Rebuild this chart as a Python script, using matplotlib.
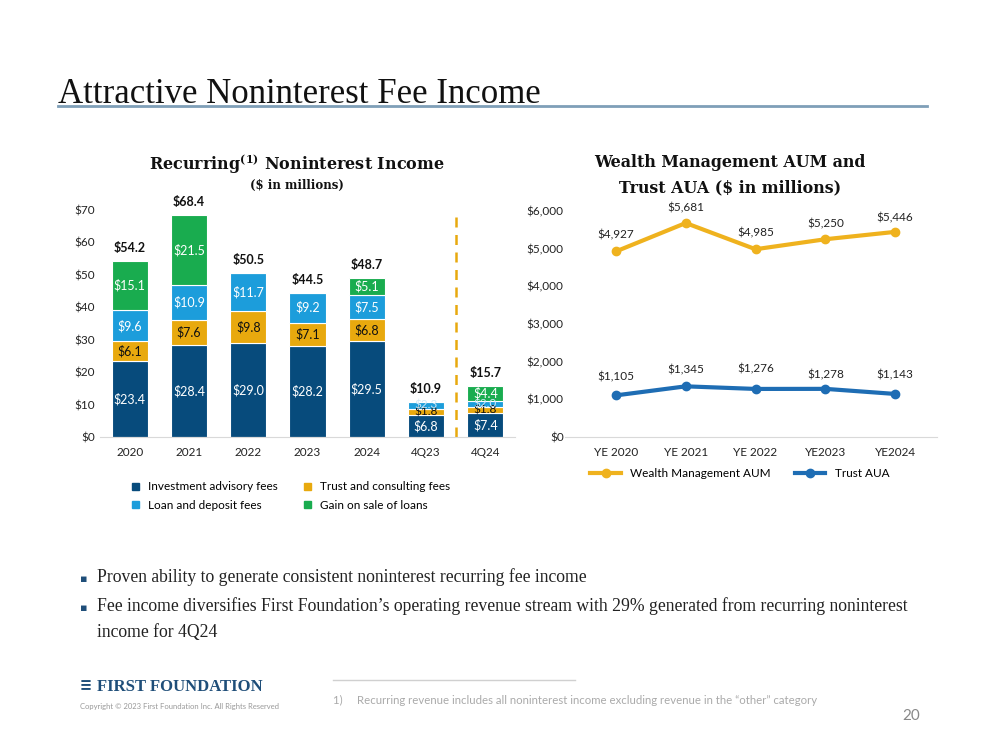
import matplotlib
matplotlib.use("Agg")
import matplotlib.pyplot as plt
from matplotlib.lines import Line2D
from matplotlib.patches import Patch

# bar chart data ($ in millions)
periods = ["2020", "2021", "2022", "2023", "2024", "4Q23", "4Q24"]
advisory = [23.4, 28.4, 29.0, 28.2, 29.5, 6.8, 7.4]
trust = [6.1, 7.6, 9.8, 7.1, 6.8, 1.8, 1.8]
loan = [9.6, 10.9, 11.7, 9.2, 7.5, 2.3, 2.0]
gain = [15.1, 21.5, 0.0, 0.0, 5.1, 0.0, 4.4]
totals = ["$54.2", "$68.4", "$50.5", "$44.5", "$48.7", "$10.9", "$15.7"]

# line chart data ($ in millions)
years = ["YE 2020", "YE 2021", "YE 2022", "YE2023", "YE2024"]
aum = [4927, 5681, 4985, 5250, 5446]
aua = [1105, 1345, 1276, 1278, 1143]

NAVY = "#074B7C"
GOLD = "#E8A90E"
SKY = "#1C9DDB"
GREEN = "#19AC4F"
LINE_GOLD = "#EFB21E"
LINE_BLUE = "#1E6DB4"

SANS = ["Lato", "DejaVu Sans"]
SERIF = ["DejaVu Serif"]
plt.rcParams["font.family"] = SANS

fig = plt.figure(figsize=(9.99, 7.5), dpi=100)
fig.patch.set_facecolor("white")

# slide title
fig.text(58 / 999, 1 - 103 / 750, "Attractive Noninterest Fee Income",
         family=["Liberation Serif"], fontsize=25, color="#111111")
fig.add_artist(Line2D([58 / 999, 927 / 999], [1 - 106 / 750] * 2,
                      color="#7F9FB8", lw=2))

# ---- left: stacked bars ----
ax = fig.add_axes([100 / 999, 1 - 437 / 750, 415 / 999, 227 / 750])
x = list(range(len(periods)))
w = 0.61
bottom = [0.0] * len(x)
segs = [(advisory, NAVY, "white"), (trust, GOLD, "#111111"),
        (loan, SKY, "white"), (gain, GREEN, "white")]
for vals, col, tcol in segs:
    ax.bar(x, vals, w, bottom=bottom, color=col, edgecolor="white", lw=0.8)
    for i, v in enumerate(vals):
        if v > 0:
            c = tcol
            fs = 9
            if i >= 5 and v < 3:
                fs = 8.5
                if col == SKY:
                    c = "#CFE8F7"
            ax.text(i, bottom[i] + v / 2, "$%.1f" % v, ha="center",
                    va="center", color=c, fontsize=fs)
    bottom = [b + v for b, v in zip(bottom, vals)]
for i, t in enumerate(totals):
    ax.text(i, bottom[i] + 2.2, t, ha="center", va="bottom",
            fontsize=9, fontweight="bold", color="#111111")
ax.axvline(5.5, ymin=0, ymax=1.0, color=GOLD, ls=(0, (4, 3)), lw=1.8)
ax.set_xlim(-0.5, 6.5)
ax.set_ylim(0, 70)
ax.set_yticks(range(0, 71, 10))
ax.set_yticklabels(["$%d" % v for v in range(0, 71, 10)])
ax.set_xticks(x)
ax.set_xticklabels(periods)
ax.tick_params(length=0, labelsize=8.5, colors="#222222")
ax.tick_params(axis="x", pad=7)
for s in ["top", "right", "left"]:
    ax.spines[s].set_visible(False)
ax.spines["bottom"].set_color("#D9D9D9")

fig.text(297 / 999, 1 - 170 / 750, r"Recurring$^{\mathregular{(1)}}$ Noninterest Income",
         family=SERIF, fontsize=11.5, fontweight="bold", ha="center",
         color="#111111")
fig.text(297 / 999, 1 - 189 / 750, "($ in millions)", family=SERIF,
         fontsize=8.5, fontweight="bold", ha="center", color="#111111")

handles = [Patch(color=NAVY), Patch(color=SKY), Patch(color=GOLD),
           Patch(color=GREEN)]
labels = ["Investment advisory fees", "Loan and deposit fees",
          "Trust and consulting fees", "Gain on sale of loans"]
fig.legend(handles, labels, ncol=2, loc="center",
           bbox_to_anchor=(291 / 999, 1 - 496 / 750), frameon=False,
           fontsize=8.5, handlelength=0.6, handleheight=0.6,
           columnspacing=2.2, labelspacing=0.6, handletextpad=0.8)

# ---- right: lines ----
ax2 = fig.add_axes([565 / 999, 1 - 437 / 750, 372 / 999, 226 / 750])
xs = list(range(len(years)))
ax2.plot(xs, aum, color=LINE_GOLD, lw=3, marker="o", ms=6,
         label="Wealth Management AUM")
ax2.plot(xs, aua, color=LINE_BLUE, lw=3, marker="o", ms=6, label="Trust AUA")
aum_off = [300, 250, 300, 250, 230]
aua_off = [350, 300, 380, 230, 350]
for i in xs:
    ax2.text(i, aum[i] + aum_off[i], "${:,}".format(aum[i]), ha="center",
             va="bottom", fontsize=8.5, color="#222222")
    ax2.text(i, aua[i] + aua_off[i], "${:,}".format(aua[i]), ha="center",
             va="bottom", fontsize=8.5, color="#222222")
ax2.set_xlim(-0.73, 4.6)
ax2.set_ylim(0, 6000)
ax2.set_yticks(range(0, 6001, 1000))
ax2.set_yticklabels(["${:,}".format(v) for v in range(0, 6001, 1000)])
ax2.set_xticks(xs)
ax2.set_xticklabels(years)
ax2.tick_params(length=0, labelsize=8.5, colors="#222222")
ax2.tick_params(axis="x", pad=7)
ax2.tick_params(axis="y", pad=1)
for s in ["top", "right", "left"]:
    ax2.spines[s].set_visible(False)
ax2.spines["bottom"].set_color("#D9D9D9")
ax2.legend(ncol=2, loc="center", bbox_to_anchor=(0.47, -0.16),
           frameon=False, fontsize=8.5, handlelength=2.6,
           columnspacing=2.0, markerscale=1.0)

fig.text(730 / 999, 1 - 167 / 750, "Wealth Management AUM and",
         family=SERIF, fontsize=11.4, fontweight="bold", ha="center",
         color="#111111")
fig.text(730 / 999, 1 - 192 / 750, "Trust AUA ($ in millions)",
         family=SERIF, fontsize=11.4, fontweight="bold", ha="center",
         color="#111111")

# ---- bullets ----
bullets = [
    (582, "Proven ability to generate consistent noninterest recurring fee income"),
    (611, "Fee income diversifies First Foundation\u2019s operating revenue stream with 29% generated from recurring noninterest"),
]
for y, t in bullets:
    fig.text(80 / 999, 1 - y / 750, "\u25aa", fontsize=8, color="#1F4E79",
             family=["DejaVu Sans"])
    fig.text(97 / 999, 1 - y / 750, t, family=["Liberation Serif"],
             fontsize=12.7, color="#222222")
fig.text(97 / 999, 1 - 637 / 750, "income for 4Q24", family=["Liberation Serif"],
         fontsize=12.7, color="#222222")

# ---- footer ----
fig.text(80 / 999, 1 - 692 / 750, "\u2261", fontsize=15, color="#1F4E79",
         fontweight="bold")
fig.text(97 / 999, 1 - 691 / 750, "FIRST FOUNDATION", family=["Liberation Serif"],
         fontsize=12, fontweight="bold", color="#1F4E79")
fig.text(80 / 999, 1 - 709 / 750,
         "Copyright \u00a9 2023 First Foundation Inc. All Rights Reserved",
         fontsize=5.5, color="#999999")
fig.add_artist(Line2D([333 / 999, 575 / 999], [1 - 680 / 750] * 2,
                      color="#D0D0D0", lw=1))
fig.text(333 / 999, 1 - 704 / 750,
         "1)     Recurring revenue includes all noninterest income excluding revenue in the \u201cother\u201d category",
         fontsize=8.2, color="#AAAAAA")
fig.text(920 / 999, 1 - 720 / 750, "20", fontsize=11, color="#888888",
         ha="right")

fig.savefig("out.png", dpi=100)
